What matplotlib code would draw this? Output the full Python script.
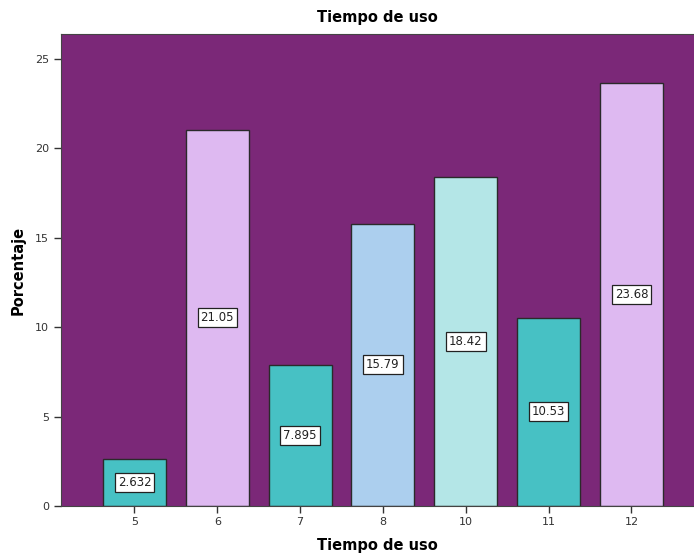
import matplotlib
matplotlib.use('Agg')
import matplotlib.pyplot as plt
import numpy as np

categories = ['5', '6', '7', '8', '10', '11', '12']
values = [2.632, 21.05, 7.895, 15.79, 18.42, 10.53, 23.68]
labels = ['2.632', '21.05', '7.895', '15.79', '18.42', '10.53', '23.68']
colors = ['#47C1C4', '#DEB9F1', '#47C1C4', '#ACCFEE', '#B4E6E7', '#47C1C4', '#DEB9F1']

fig = plt.figure(figsize=(6.94, 5.56), dpi=100)
ax = fig.add_axes([0.0879, 0.0899, 0.9121, 0.8489])
ax.set_facecolor('#7B2878')

x = np.arange(len(categories))
ax.bar(x, values, width=0.76, color=colors, edgecolor='#2a2a2a', linewidth=1.0, zorder=2)

for xi, v, lab in zip(x, values, labels):
    ax.text(xi, v / 2, lab, ha='center', va='center', fontsize=8.5, color='#222222', zorder=3,
            bbox=dict(boxstyle='square,pad=0.25', facecolor='white', edgecolor='#222222', linewidth=0.9))

ax.set_xlim(-0.887, 6.755)
ax.set_ylim(0, 26.4)
ax.set_xticks(x)
ax.set_xticklabels(categories)
ax.set_yticks([0, 5, 10, 15, 20, 25])
ax.tick_params(axis='both', labelsize=8, colors='#333333', length=5, width=1)
ax.tick_params(axis='x', pad=3)
for side in ['left', 'bottom', 'top']:
    ax.spines[side].set_color('#444444')
ax.spines['right'].set_visible(False)

ax.set_title('Tiempo de uso', fontsize=10.5, fontweight='bold', pad=9)
ax.set_xlabel('Tiempo de uso', fontsize=10.5, fontweight='bold', labelpad=8)
ax.set_ylabel('Porcentaje', fontsize=10.5, fontweight='bold', labelpad=7)

fig.savefig('out.png', dpi=100)
